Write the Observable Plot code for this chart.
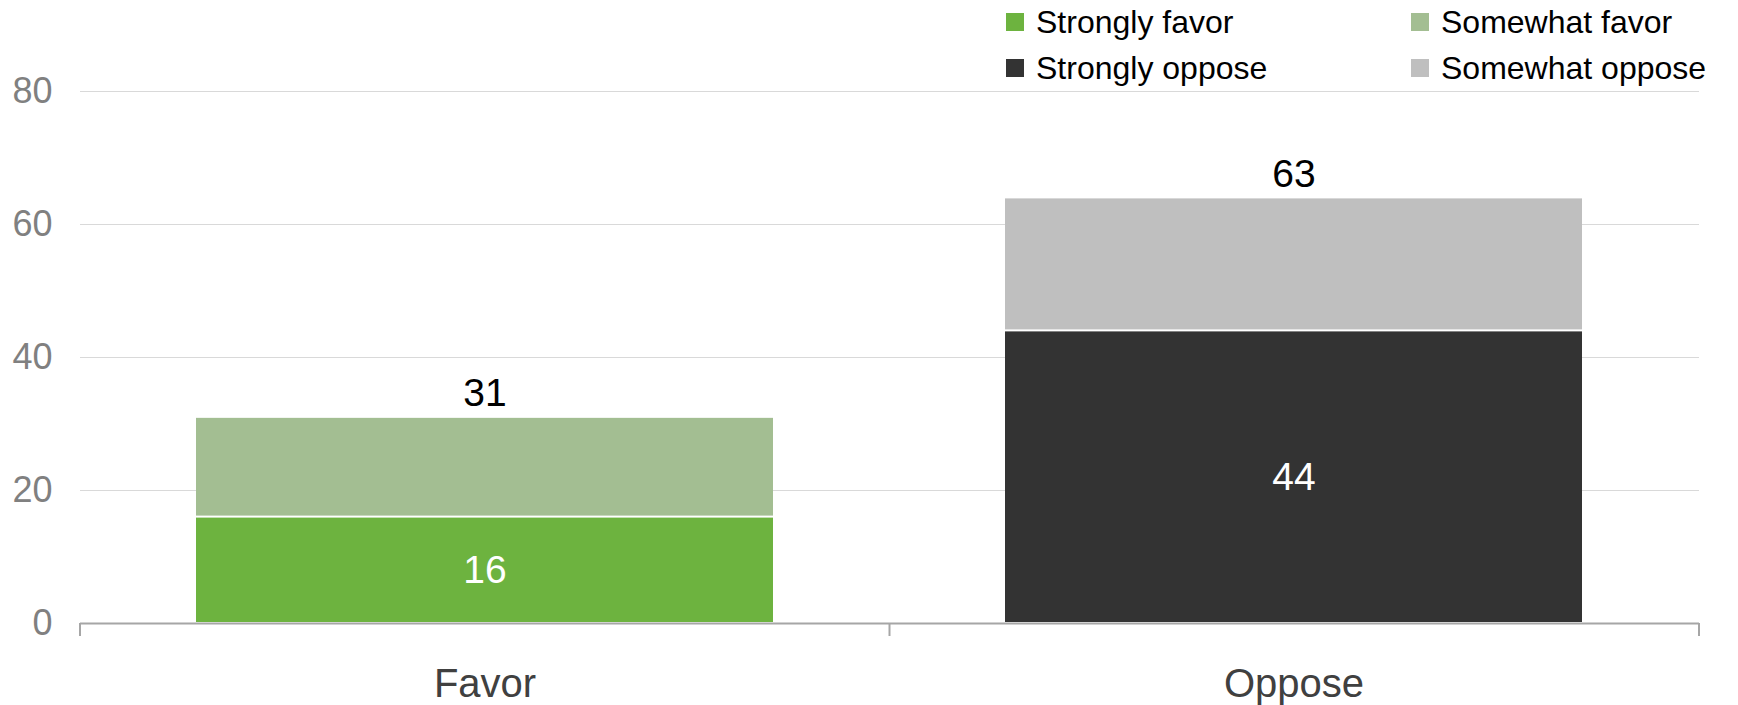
<!DOCTYPE html>
<html>
<head>
<meta charset="utf-8">
<script src="https://cdn.jsdelivr.net/npm/d3@7"></script>
<script src="https://cdn.jsdelivr.net/npm/@observablehq/plot@0.6"></script>
<style>
  html, body { margin: 0; padding: 0; background: #fff; }
  body { width: 1738px; height: 705px; overflow: hidden; font-family: "Liberation Sans", Arial, sans-serif; }
  #legend { position: relative; height: 80px; overflow: visible; }
  #legend .grid { position: absolute; left: 1006px; top: -1px; display: grid; grid-template-columns: 405px auto; grid-auto-rows: 46px; }
  #legend .item { display: flex; align-items: center; font-size: 32px; color: #000; white-space: nowrap; }
  #legend .sw { width: 18px; height: 18px; margin-right: 12px; flex: none; }
  #chart svg { overflow: visible; }
</style>
</head>
<body>
<div id="legend"><div class="grid"></div></div>
<div id="chart"></div>
<script>
// ---- data ----
const categories = ["Favor", "Oppose"];
const stronglyNames = ["Strongly favor", "Strongly oppose"];
const somewhatNames = ["Somewhat favor", "Somewhat oppose"];
const stronglyValues = [16, 44];
const somewhatValues = [15, 20];
const totalLabels = [31, 63];
const legendOrder = ["Strongly favor", "Somewhat favor", "Strongly oppose", "Somewhat oppose"];
const yTicks = [0, 20, 40, 60, 80];

// ---- styling options ----
const seriesColors = ["#6db33f", "#a3be92", "#333333", "#bfbfbf"];
const font = "'Liberation Sans', Arial, sans-serif";

// ---- build tables ----
const rows = [];
categories.forEach((c, i) => {
  rows.push({cat: c, series: stronglyNames[i], value: stronglyValues[i]});
  rows.push({cat: c, series: somewhatNames[i], value: somewhatValues[i]});
});
const innerLabels = categories.map((c, i) => ({cat: c, value: stronglyValues[i], mid: stronglyValues[i] / 2}));
const topLabels = categories.map((c, i) => ({cat: c, top: stronglyValues[i] + somewhatValues[i], label: totalLabels[i]}));

// legend
const grid = d3.select("#legend .grid");
legendOrder.forEach((name) => {
  const it = grid.append("div").attr("class", "item");
  it.append("div").attr("class", "sw").style("background", seriesColors[legendOrder.indexOf(name)]);
  it.append("span").text(name);
});

// category boundary ticks below the axis (Excel-style)
function boundaryTicks(index, scales, values, dimensions) {
  const {width, height, marginLeft, marginRight, marginBottom} = dimensions;
  const n = categories.length;
  const x0 = marginLeft, x1 = width - marginRight;
  const y0 = height - marginBottom;
  const g = d3.create("svg:g");
  for (let i = 0; i <= n; i++) {
    const x = x0 + (i * (x1 - x0)) / n;
    g.append("line")
      .attr("x1", x).attr("x2", x)
      .attr("y1", y0).attr("y2", y0 + 13)
      .attr("stroke", "#a6a6a6").attr("stroke-width", 2);
  }
  return g.node();
}

const chart = Plot.plot({
  width: 1738,
  height: 625,
  marginLeft: 80,
  marginRight: 39,
  marginTop: 11,
  marginBottom: 82,
  style: {fontFamily: font, background: "#fff", overflow: "visible"},
  x: {domain: categories, paddingInner: 0.2864, paddingOuter: 0.1432, label: null},
  y: {domain: [0, 80], ticks: yTicks, label: null},
  color: {domain: legendOrder, range: seriesColors},
  marks: [
    Plot.gridY(yTicks.filter(d => d > 0), {stroke: "#d9d9d9", strokeOpacity: 1, strokeWidth: 1}),
    Plot.axisY(yTicks, {tickSize: 0, tickPadding: 28, fontSize: 36, fill: "#808080", label: null}),
    Plot.axisX({tickSize: 0, tickPadding: 45, fontSize: 40, fill: "#404040", label: null}),
    Plot.barY(rows, Plot.stackY({
      x: "cat", y: "value", z: "series", fill: "series",
      order: legendOrder.filter(s => stronglyNames.includes(s)).concat(somewhatNames),
      insetTop: 1, insetBottom: 1
    })),
    Plot.ruleY([0], {stroke: "#a6a6a6", strokeWidth: 2}),
    boundaryTicks,
    Plot.text(innerLabels, {x: "cat", y: "mid", text: d => String(d.value), fill: "#fff", fontSize: 39, lineAnchor: "middle"}),
    Plot.text(topLabels, {x: "cat", y: "top", text: d => String(d.label), fill: "#000", fontSize: 39, lineAnchor: "bottom", dy: -11})
  ]
});
document.getElementById("chart").appendChild(chart);
</script>
</body>
</html>
